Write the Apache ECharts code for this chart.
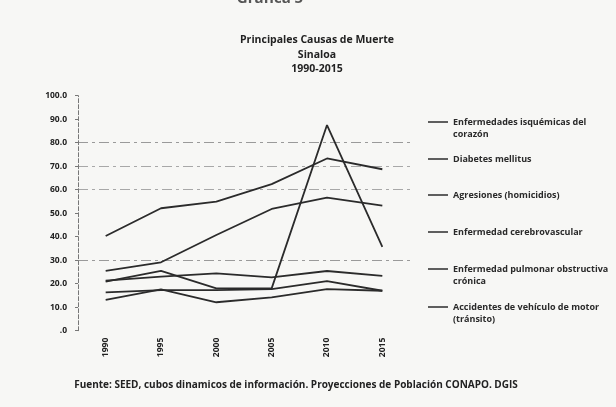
<!DOCTYPE html>
<html>
<head>
<meta charset="utf-8">
<script src="https://cdn.jsdelivr.net/npm/echarts@6/dist/echarts.min.js"></script>
<style>
  html, body { margin: 0; padding: 0; background: #f7f7f5; }
  #chart { width: 616px; height: 407px; }
</style>
</head>
<body>
<div id="chart"></div>
<script>
var years = ["1990", "1995", "2000", "2005", "2010", "2015"];
var yTicks = [0, 10, 20, 30, 40, 50, 60, 70, 80, 90, 100];

var isquemicas = [40.3, 52.1, 54.9, 62.4, 73.3, 68.7];
var diabetes = [25.5, 29.1, 40.7, 51.8, 56.6, 53.2];
var agresiones = [20.9, 25.5, 18.0, 18.0, 87.5, 35.7];
var cerebro = [21.3, 23.0, 24.4, 22.7, 25.4, 23.3];
var epoc = [16.3, 17.3, 17.3, 17.7, 21.1, 17.0];
var accidentes = [13.1, 17.6, 12.1, 14.2, 17.7, 17.0];

var names = [
  "Enfermedades isquémicas del\ncorazón",
  "Diabetes mellitus",
  "Agresiones (homicidios)",
  "Enfermedad cerebrovascular",
  "Enfermedad pulmonar obstructiva\ncrónica",
  "Accidentes de vehículo de motor\n(tránsito)"
];
var seriesData = [isquemicas, diabetes, agresiones, cerebro, epoc, accidentes];
var legendLineY = [122, 159, 195, 232, 269, 307];

// faded gridlines, only some survived the photocopy
var gridColors = ["transparent", "transparent", "transparent", "#9a9a9a", "transparent",
  "transparent", "#a8a8a8", "#a8a8a8", "#9a9a9a", "transparent", "transparent"];

var chart = echarts.init(document.getElementById("chart"));

var lh = 12;
var legends = names.map(function (n, i) {
  var twoLines = n.indexOf("\n") >= 0;
  return {
    data: [n],
    left: 428,
    top: legendLineY[i] - (twoLines ? lh * 1.5 : lh / 2),
    padding: 0,
    icon: "rect",
    itemWidth: 20,
    itemHeight: 1.5,
    itemGap: 5,
    // blank first line so the marker sits next to the first text line
    formatter: function (name) {
      return name.indexOf("\n") >= 0 ? "\n" + name : name;
    },
    textStyle: {
      fontFamily: "Open Sans",
      fontWeight: "bold",
      fontSize: 9,
      color: "#2a2a2a",
      lineHeight: lh
    }
  };
});

chart.setOption({
  backgroundColor: "#f7f7f5",
  animation: false,
  title: [
    {
      text: "Gráfica 5",
      left: 265,
      top: -14,
      textAlign: "center",
      textStyle: { fontFamily: "Open Sans", fontWeight: "bold", fontSize: 15, color: "#555" }
    },
    {
      text: "Principales Causas de Muerte\nSinaloa\n1990-2015",
      left: 312,
      top: 28,
      textAlign: "center",
      textStyle: {
        fontFamily: "Open Sans",
        fontWeight: "bold",
        fontSize: 10.5,
        lineHeight: 14.5,
        color: "#222"
      }
    },
    {
      text: "Fuente: SEED, cubos dinamicos de información. Proyecciones de Población CONAPO. DGIS",
      left: 291,
      top: 375,
      textAlign: "center",
      textStyle: { fontFamily: "Open Sans", fontWeight: "bold", fontSize: 10, color: "#222" }
    }
  ],
  legend: legends,
  grid: { left: 78, top: 95.7, width: 332, height: 235 },
  xAxis: {
    type: "category",
    data: years,
    boundaryGap: true,
    axisLine: { show: false },
    axisTick: { show: false },
    axisLabel: {
      rotate: 90,
      margin: 7,
      fontFamily: "Open Sans",
      fontWeight: "bold",
      fontSize: 8.5,
      color: "#222"
    }
  },
  yAxis: {
    type: "value",
    min: yTicks[0],
    max: yTicks[yTicks.length - 1],
    interval: 10,
    axisLine: { show: true, lineStyle: { color: "#777", type: "dashed", width: 1 } },
    axisTick: { show: true, length: 3, lineStyle: { color: "#777" } },
    axisLabel: {
      margin: 11,
      fontFamily: "Open Sans",
      fontWeight: "bold",
      fontSize: 8.5,
      color: "#222",
      formatter: function (v) {
        return v === 0 ? ".0" : v.toFixed(1);
      }
    },
    splitLine: {
      show: true,
      lineStyle: { color: gridColors, type: [10, 4, 3, 4], width: 1 }
    }
  },
  series: seriesData.map(function (d, i) {
    return {
      name: names[i],
      type: "line",
      data: d,
      symbol: "none",
      lineStyle: { color: "#2b2b2b", width: 1.8 },
      itemStyle: { color: "#2b2b2b" }
    };
  })
});
</script>
</body>
</html>
